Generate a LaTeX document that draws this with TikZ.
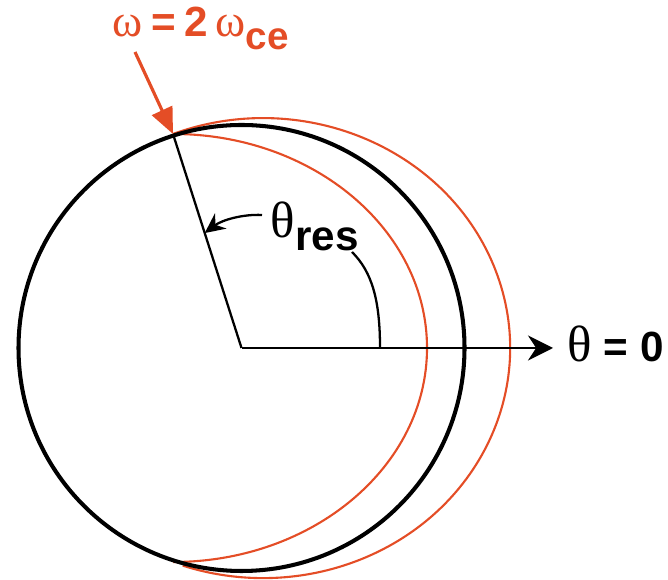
\documentclass[tikz,border=0pt]{standalone}
\usepackage{fontspec}
\setsansfont{Liberation Sans}
\newfontfamily\grk{Liberation Serif}
\usetikzlibrary{arrows.meta,calc}
\definecolor{resred}{RGB}{228,77,38}
\newcommand{\gsym}[2][14.5]{{\grk\mdseries\fontsize{#1}{15}\selectfont #2}}

\begin{document}
\begin{tikzpicture}[
        x=0.01cm, y=0.01cm,
        wave/.style={draw=resred, line width=0.6pt},
        lbl/.style={inner sep=0pt, anchor=base west, font=\fontsize{12}{14}\selectfont\sffamily\bfseries},
        >=Stealth
    ]
    \useasboundingbox (0,0) rectangle (668,580);

    % Points
    \coordinate (O) at (241.5,232);
    \coordinate (P) at (173,446);
    \coordinate (T) at (553,232);
    \coordinate (Q) at ($(O)!0.537!(P)$);
    \coordinate (R) at (380,232);
    \coordinate (S) at (135,528);
    \coordinate (A) at (262,365);
    \coordinate (B) at (352,328);

    % Resonance curves
    \draw[wave] (P) arc[start angle=90, end angle=-90, x radius=254, y radius=214];
    \draw[wave] (P) arc[start angle=111.4, end angle=-109, x radius=247, y radius=230];

    % Circle, radius and axis
    \draw[line width=1.15pt] (O) circle[radius=223];
    \draw[line width=0.65pt] (O) -- (P);
    \draw[line width=0.75pt, -{Stealth[length=2.5mm,width=2.5mm]}] (O) -- (T);

    % Angle marks
    \draw[line width=0.65pt, -{Stealth[length=2mm,width=1.9mm]}] (A) .. controls (243,366) and (222,360) .. (Q);
    \draw[line width=0.65pt] (B) .. controls (372,308) and (380,280) .. (R);

    % Labels
    \node[lbl] (zero) at (567,218) {\gsym{θ} = 0};
    \node[lbl] (res) at (270,342) {\gsym{θ}\raisebox{-3.5pt}{res}};
    \node[lbl, text=resred] (wce) at (112,543) {\gsym[13]{ω}\hspace{2.4pt}=\hspace{2.4pt}2\hspace{2.2pt}\gsym[13]{ω}\raisebox{-3.5pt}{\fontsize{11}{12}\selectfont ce}};

    % Resonance pointer
    \draw[resred, line width=0.9pt, -{Triangle[length=2.6mm,width=2.2mm]}] (S) -- (P);
\end{tikzpicture}
\end{document}
